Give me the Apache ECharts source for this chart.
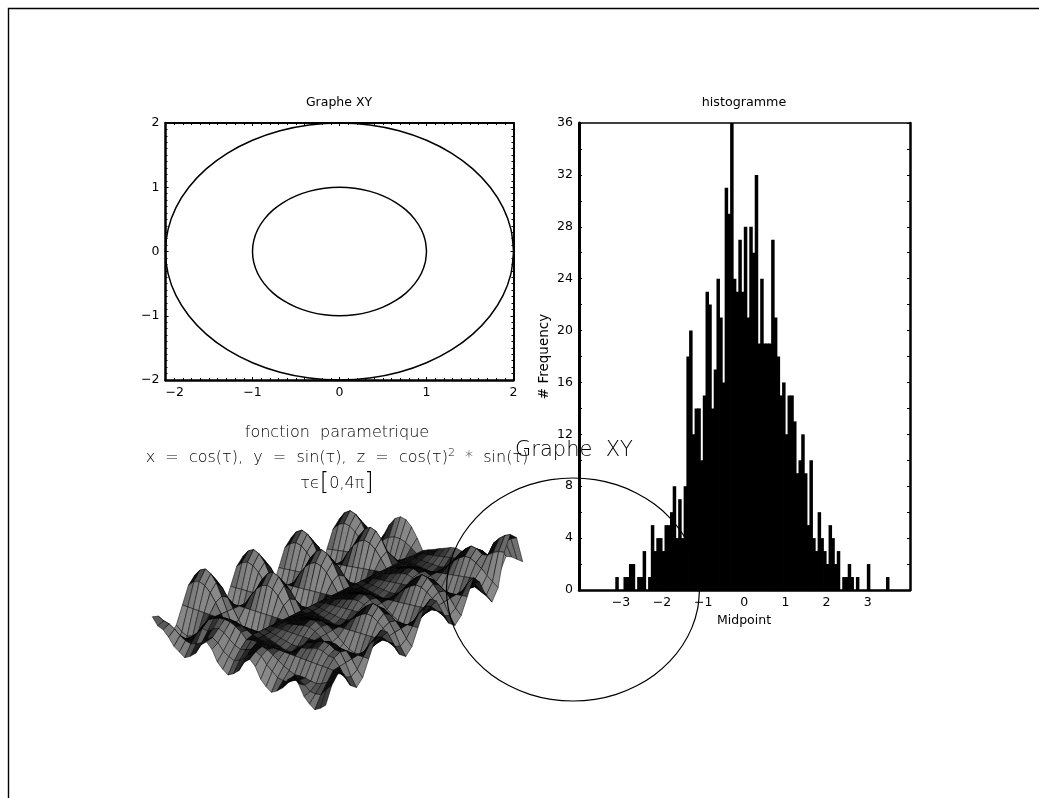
<!DOCTYPE html>
<html><head><meta charset="utf-8">
<style>html,body{margin:0;padding:0;background:#fff}#c{width:1039px;height:798px}</style>
<script src="https://cdn.jsdelivr.net/npm/echarts@6/dist/echarts.min.js"></script>
</head><body><div id="c"></div>
<script>
const innerX=[1,.985,.94,.866,.766,.643,.5,.342,.174,0,-.174,-.342,-.5,-.643,-.766,-.866,-.94,-.985,-1,-.985,-.94,-.866,-.766,-.643,-.5,-.342,-.174,0,.174,.342,.5,.643,.766,.866,.94,.985,1];
const innerY=[0,.174,.342,.5,.643,.766,.866,.94,.985,1,.985,.94,.866,.766,.643,.5,.342,.174,0,-.174,-.342,-.5,-.643,-.766,-.866,-.94,-.985,-1,-.985,-.94,-.866,-.766,-.643,-.5,-.342,-.174,0];
const outerX=[2,1.97,1.88,1.732,1.532,1.286,1,.684,.348,0,-.348,-.684,-1,-1.286,-1.532,-1.732,-1.88,-1.97,-2,-1.97,-1.88,-1.732,-1.532,-1.286,-1,-.684,-.348,0,.348,.684,1,1.286,1.532,1.732,1.88,1.97,2];
const outerY=[0,.348,.684,1,1.286,1.532,1.732,1.88,1.97,2,1.97,1.88,1.732,1.532,1.286,1,.684,.348,0,-.348,-.684,-1,-1.286,-1.532,-1.732,-1.88,-1.97,-2,-1.97,-1.88,-1.732,-1.532,-1.286,-1,-.684,-.348,0];
const histCounts=[1,0,0,1,1,2,2,0,1,1,3,0,1,5,3,4,4,3,5,5,6,8,4,7,4,8,18,20,12,14,14,10,15,23,22,14,17,24,21,16,31,29,36,24,23,27,23,28,21,28,26,32,19,24,19,19,19,27,21,18,15,16,12,15,15,13,9,10,12,9,5,10,4,3,6,4,3,2,5,4,2,3,0,1,1,2,1,0,1,0,0,0,2,0,0,0,0,0,0,1];
const histFirstMid=-3.095, histBinWidth=0.0665;
const histMidTicks=[-3,-2,-1,0,1,2,3];
const freqLabels=[0,4,8,12,16,20,24,28,32,36];
const freqTicks=[0,2,4,6,8,10,12,14,16,18,20,22,24,26,28,30,32,34,36];
const surfaceHeights=[
[0,-5,-35,-71,-50,0,50,71,50,0,-50,-71,-50,0,50,71,50,0,-50,-71,-50,0,50,71,50,0,-50,-71,-50,0,50,71,50],
[-20,-12,-52,-92,-65,0,65,92,65,0,-65,-92,-65,0,65,92,65,0,-65,-92,-65,0,65,92,65,0,-65,-92,-65,0,65,92,65],
[-25,-15,-57,-100,-71,0,71,100,71,0,-71,-100,-71,0,71,100,71,0,-71,-100,-71,0,71,100,71,0,-71,-100,-71,0,71,100,71],
[-40,-24,-57,-92,-65,0,65,92,65,0,-65,-92,-65,0,65,92,65,0,-65,-92,-65,0,65,92,65,0,-65,-92,-65,0,65,92,65],
[-60,-36,-53,-71,-50,0,50,71,50,0,-50,-71,-50,0,50,71,50,0,-50,-71,-50,0,50,71,50,0,-50,-71,-50,0,50,71,50],
[-70,-45,-42,-38,-27,0,27,38,27,0,-27,-38,-27,0,27,38,27,0,-27,-38,-27,0,27,38,27,0,-27,-38,-27,0,27,38,27],
[-80,-48,-25,-10,0,0,0,0,0,0,0,0,0,0,0,0,0,0,0,0,0,0,0,0,0,0,0,0,0,0,0,0,0],
[-70,-42,-6,11,8,0,-27,-38,-27,0,27,38,27,0,-27,-38,-27,0,27,38,27,0,-27,-38,-27,0,27,38,15,-8,-8,15,34],
[-55,-33,-7,21,15,0,-50,-71,-50,0,50,71,50,0,-50,-71,-50,0,50,71,50,0,-50,-71,-50,0,50,71,28,-14,-14,28,64],
[-25,-15,6,28,20,0,-65,-92,-65,0,65,92,65,0,-65,-92,-65,0,65,92,65,0,-65,-92,-65,0,65,92,37,-18,-18,37,83],
[-10,-6,12,30,21,0,-71,-100,-71,0,71,100,71,0,-71,-100,-71,0,71,100,71,0,-71,-100,-71,0,71,100,40,-20,-20,40,90],
[-25,-15,6,28,20,0,-65,-92,-65,0,65,92,65,0,-65,-92,-65,0,65,92,65,0,-65,-92,-65,0,65,92,37,-18,-18,37,83],
[-55,-33,-7,21,15,0,-50,-71,-50,0,50,71,50,0,-50,-71,-50,0,50,71,50,0,-50,-71,-50,0,50,71,28,-14,-14,28,64],
[-70,-42,-18,11,8,0,-27,-38,-27,0,27,38,27,0,-27,-38,-27,0,27,38,27,0,-27,-38,-27,0,27,38,15,-8,-8,15,34],
[-80,-48,-24,-5,0,0,0,0,0,0,0,0,0,0,0,0,0,0,0,0,0,0,0,0,0,0,0,0,0,0,0,0,0],
[-70,-40,-19,0,-4,-5,-4,0,4,5,4,0,-4,-5,-4,0,4,5,4,0,-4,-5,-4,0,4,5,4,0,-4,-5,-4,0,4],
[-55,-29,-12,0,-7,-10,-7,0,7,10,7,0,-7,-10,-7,0,7,10,7,0,-7,-10,-7,0,7,10,7,0,-7,-10,-7,0,7],
[-25,-9,-1,0,-11,-15,-11,0,11,15,11,0,-11,-15,-11,0,11,15,11,0,-11,-15,-11,0,11,15,11,0,-11,-15,-11,0,11],
[-10,2,7,0,-14,-20,-14,0,14,20,14,0,-14,-20,-14,0,14,20,14,0,-14,-20,-14,0,14,20,14,0,-14,-20,-14,0,14],
[-25,-5,4,0,-18,-25,-18,0,18,25,18,0,-18,-25,-18,0,18,25,18,0,-18,-25,-18,0,18,25,18,0,-18,-25,-18,0,18],
[-55,-23,-5,0,-18,-25,-18,0,18,25,18,0,-18,-25,-18,0,18,25,18,0,-18,-25,-18,0,18,25,18,0,-18,-25,-18,0,18],
[-70,-36,-14,0,-11,-15,-11,0,11,15,11,0,-11,-15,-11,0,11,15,11,0,-11,-15,-11,0,11,15,11,0,-11,-15,-11,0,11],
[-80,-48,-24,0,0,0,0,0,0,0,0,0,0,0,0,0,0,0,0,0,0,0,0,0,0,0,0,0,0,0,0,0,0],
[-70,-50,-31,0,14,20,14,0,-14,-20,-14,0,14,20,14,0,-14,-20,-14,0,14,20,14,0,-14,-20,-14,0,14,20,14,0,-14],
[-55,-49,-37,0,17,24,17,0,-28,-40,-28,0,28,40,28,0,-28,-40,-28,0,28,40,28,0,-28,-40,-28,0,28,40,28,0,-28],
[-25,-37,-35,0,23,33,23,0,-39,-55,-39,0,39,55,39,0,-39,-55,-39,0,39,55,39,0,-39,-55,-39,0,39,55,39,0,-39],
[-10,-32,-35,0,28,39,28,0,-46,-65,-46,0,46,65,46,0,-46,-65,-46,0,46,65,46,0,-46,-65,-46,0,46,65,46,0,-46],
[-25,-39,-38,0,26,36,26,0,-43,-60,-43,0,43,60,43,0,-43,-60,-43,0,43,60,43,0,-43,-60,-43,0,43,60,43,0,-43],
[-55,-51,-39,0,19,27,19,0,-32,-45,-32,0,32,45,32,0,-32,-45,-32,0,32,45,32,0,-32,-45,-32,0,32,45,32,0,-32],
[-70,-52,-33,0,18,25,18,0,-18,-25,-18,0,18,25,18,0,-18,-25,-18,0,18,25,18,0,-18,-25,-18,0,18,45,70,50,10],
[-80,-48,-24,0,0,0,0,0,0,0,0,0,0,0,0,0,0,0,0,0,0,0,0,0,0,0,-10,-25,0,55,85,65,10],
[-70,-28,-4,0,-25,-35,-25,0,25,35,25,0,-25,-35,-25,0,25,35,25,0,-25,-35,-25,0,25,15,-20,-42,-15,60,95,75,5],
[-55,-9,13,0,-43,-60,-43,0,43,60,43,0,-43,-60,-43,0,43,60,43,0,-43,-60,-43,0,43,20,-30,-60,-30,60,100,80,0]
];
const surfaceCorners={L:[152.3,616.7],N:[325.7,686],R:[522.7,561.7],F:[345,542]};
const surfaceHeightScale=0.35;

const FONT='"DejaVu Sans"';
const LIGHT={fontFamily:FONT,fontWeight:200,color:'#000'};
const minus=v=>String(v).replace('-','\u2212');
const histData=histCounts.map((c,i)=>[+(histFirstMid+i*histBinWidth).toFixed(4),c]);
function proj(i,j){
  const n=surfaceHeights.length-1,m=surfaceHeights[0].length-1,u=i/n,v=j/m,C=surfaceCorners;
  const f=k=>(1-u)*(1-v)*C.L[k]+u*(1-v)*C.N[k]+u*v*C.R[k]+(1-u)*v*C.F[k];
  return [f(0),f(1)-surfaceHeights[i][j]*surfaceHeightScale];
}
const cells=[];
for(let j=surfaceHeights[0].length-2;j>=0;j--)for(let i=0;i<surfaceHeights.length-1;i++)cells.push([i,j]);
// a cell that is squeezed on screen reads darker, as a denser mesh would
function cellShade(pts){
  let area=0,per=0;
  for(let k=0;k<4;k++){const a=pts[k],b=pts[(k+1)%4];area+=a[0]*b[1]-b[0]*a[1];per+=Math.hypot(b[0]-a[0],b[1]-a[1]);}
  area=Math.abs(area)/2;
  const black=Math.min(0.95,Math.max(0.35,1.15*per/Math.max(area,1)));
  const g=Math.round(255*(1-black));
  return 'rgb('+g+','+g+','+g+')';
}

const tickBase={inside:true,lineStyle:{color:'#000',width:1}};
const xyAxisLine=w=>({show:true,onZero:false,lineStyle:{color:'#000',width:w}});
const mkXY=(pos,labelled,w)=>({gridIndex:0,type:'value',min:-2,max:2,interval:1,position:pos,
  axisLine:xyAxisLine(w),axisTick:{...tickBase,show:true,length:3},minorTick:{show:true,splitNumber:10,length:2,lineStyle:{color:'#000',width:1}},splitLine:{show:false},minorSplitLine:{show:false},
  axisLabel:{show:labelled,fontFamily:FONT,fontSize:12.5,color:'#000',margin:6,formatter:minus,alignMinLabel:pos==='bottom'?'left':undefined,showMinLabel:true,showMaxLabel:true}});
const hist={left:579,right:910,top:123,bottom:590};
const T=(o)=>({padding:0,textAlign:'center',...o});
const option={
  animation:false,backgroundColor:'#fff',
  title:[
    T({text:'Graphe XY',left:339,top:96,textStyle:{fontFamily:FONT,fontSize:12.5,fontWeight:400,color:'#000'}}),
    T({text:'histogramme',left:744,top:96,textStyle:{fontFamily:FONT,fontSize:12.7,fontWeight:400,color:'#000'}}),
    T({text:'fonction  parametrique',left:337,top:425,textStyle:{...LIGHT,fontSize:16}}),
    T({text:'x  =  cos(\u03c4),  y  =  sin(\u03c4),  z  =  cos(\u03c4){s|2}  *  sin(\u03c4)',left:337,top:448,textStyle:{...LIGHT,fontSize:16,rich:{s:{...LIGHT,fontSize:11,padding:[0,0,8,0]}}}}),
    T({text:'\u03c4\u03f5{b|[}0,4\u03c0{b|]}',left:337,top:472,textStyle:{...LIGHT,fontSize:16,rich:{b:{...LIGHT,fontSize:24}}}}),
    T({text:'Graphe  XY',left:574,top:440,textStyle:{...LIGHT,fontSize:21}}),
    T({text:'Midpoint',left:744,top:614,textStyle:{fontFamily:FONT,fontSize:12.5,fontWeight:400,color:'#000'}})
  ],
  grid:[
    {left:165.5,top:123,width:348,height:257},
    {left:hist.left,top:hist.top,width:hist.right-hist.left,height:hist.bottom-hist.top},
    {left:130,top:490,width:420,height:230},
    {left:446.5,top:478,width:253,height:223}
  ],
  xAxis:[
    mkXY('bottom',true,2.5),mkXY('top',false,2),
    {gridIndex:1,type:'value',min:-4.02,max:4.03,position:'bottom',axisLine:{show:true,onZero:false,lineStyle:{color:'#000',width:2.5}},axisTick:{show:false},splitLine:{show:false},
      axisLabel:{fontFamily:FONT,fontSize:12.5,color:'#000',margin:6,customValues:histMidTicks,formatter:minus}},
    {gridIndex:1,type:'value',min:-4.02,max:4.03,position:'top',axisLine:{show:true,onZero:false,lineStyle:{color:'#000',width:1.5}},axisTick:{show:false},axisLabel:{show:false},splitLine:{show:false}},
    {gridIndex:2,type:'value',min:130,max:550,show:false},
    {gridIndex:3,type:'value',min:-1,max:1,show:false}
  ],
  yAxis:[
    mkXY('left',true,2.5),mkXY('right',false,2),
    {gridIndex:1,type:'value',min:0,max:36,position:'left',name:'# Frequency',nameLocation:'middle',nameGap:28,nameRotate:90,nameTextStyle:{fontFamily:FONT,fontSize:13.5,color:'#000'},
      axisLine:{show:true,onZero:false,lineStyle:{color:'#000',width:3}},axisTick:{show:true,inside:true,length:3,customValues:freqTicks,lineStyle:{color:'#000',width:1}},splitLine:{show:false},
      axisLabel:{fontFamily:FONT,fontSize:12.5,color:'#000',margin:6,customValues:freqLabels}},
    {gridIndex:1,type:'value',min:0,max:36,position:'right',axisLine:{show:true,onZero:false,lineStyle:{color:'#000',width:2.5}},axisTick:{show:true,inside:true,length:3,customValues:freqTicks,lineStyle:{color:'#000',width:1}},axisLabel:{show:false},splitLine:{show:false}},
    {gridIndex:2,type:'value',min:490,max:720,inverse:true,show:false},
    {gridIndex:3,type:'value',min:-1,max:1,show:false}
  ],
  series:[
    {type:'custom',xAxisIndex:4,yAxisIndex:4,coordinateSystem:'cartesian2d',clip:false,silent:true,data:cells,encode:{x:-1,y:-1},
      renderItem(p,api){const i=api.value(0),j=api.value(1);
        const pts=[proj(i,j),proj(i+1,j),proj(i+1,j+1),proj(i,j+1)].map(q=>api.coord(q));
        return {type:'polygon',shape:{points:pts},style:{fill:cellShade(pts),stroke:'rgba(0,0,0,0.7)',lineWidth:0.7}};}},
    {type:'line',xAxisIndex:0,yAxisIndex:0,data:outerX.map((x,i)=>[x,outerY[i]]),showSymbol:false,smooth:0.3,clip:false,lineStyle:{color:'#000',width:1.5}},
    {type:'line',xAxisIndex:0,yAxisIndex:0,data:innerX.map((x,i)=>[x,innerY[i]]),showSymbol:false,smooth:0.3,lineStyle:{color:'#000',width:1.5}},
    {type:'bar',xAxisIndex:2,yAxisIndex:2,data:histData,barWidth:3.5,itemStyle:{color:'#000'},silent:true},
    {type:'line',xAxisIndex:5,yAxisIndex:5,data:innerX.map((x,i)=>[x,innerY[i]]),showSymbol:false,smooth:0.3,clip:false,lineStyle:{color:'#000',width:1.2},z:5}
  ],
  graphic:[{type:'polyline',shape:{points:[[8.5,798],[8.5,8.5],[1039,8.5]]},style:{fill:null,stroke:'#000',lineWidth:1.4},silent:true}]
};
echarts.init(document.getElementById('c'),null,{renderer:'canvas'}).setOption(option);
</script></body></html>
